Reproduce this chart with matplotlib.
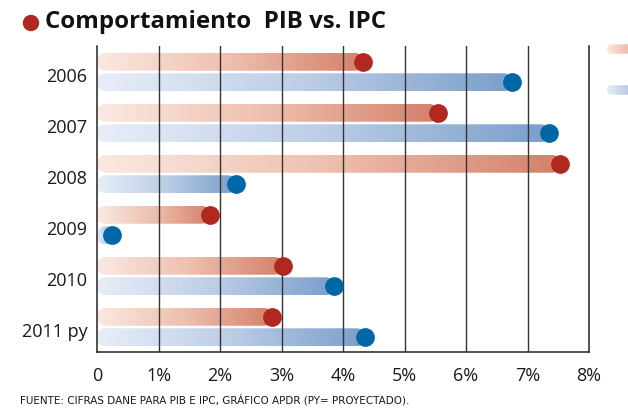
import numpy as np
import matplotlib
matplotlib.use('Agg')
import matplotlib.pyplot as plt
from matplotlib.colors import LinearSegmentedColormap
from matplotlib.patches import FancyBboxPatch, Ellipse

years = ['2006', '2007', '2008', '2009', '2010', '2011 py']
red_vals = [4.33, 5.54, 7.53, 1.84, 3.02, 2.85]
blue_vals = [6.75, 7.35, 2.26, 0.24, 3.85, 4.36]
xticks = [0, 1, 2, 3, 4, 5, 6, 7, 8]
xtick_labels = ['0', '1%', '2%', '3%', '4%', '5%', '6%', '7%', '8%']
title = 'Comportamiento  PIB vs. IPC'
footer = 'FUENTE: CIFRAS DANE PARA PIB E IPC, GRÁFICO APDR (PY= PROYECTADO).'

red_cmap = LinearSegmentedColormap.from_list('r', ['#fae9e2', '#eebfae', '#d4806a'])
blue_cmap = LinearSegmentedColormap.from_list('b', ['#e8eef8', '#bccde6', '#7a9ecb'])
red_dot = '#b0281f'
blue_dot = '#0067a7'

W, H = 628, 413
fig = plt.figure(figsize=(W / 100, H / 100), dpi=100)

ax_l, ax_r, ax_b, ax_t = 97, 589, 352, 46
ax = fig.add_axes([ax_l / W, 1 - ax_b / H, (ax_r - ax_l) / W, (ax_b - ax_t) / H])
ax.set_xlim(0, 8)
ax.set_ylim(5.49, -0.51)

px_x = (ax_r - ax_l) / 8.0
px_y = (ax_b - ax_t) / 6.0


def grad_bar(axis, x1, yc, h, cmap, pxx, pxy, z=2):
    r = (h / 2) * pxy / pxx
    a = pxx / pxy
    w = max(x1, 2 * r)
    patch = FancyBboxPatch((0, yc - h / 2), w, h,
                           boxstyle=f"round,pad=0,rounding_size={r}",
                           mutation_aspect=a, transform=axis.transData,
                           facecolor='none', edgecolor='none')
    axis.add_patch(patch)
    grad = np.linspace(0, 1, 256).reshape(1, -1)
    im = axis.imshow(grad, cmap=cmap, extent=[0, w, yc + h / 2, yc - h / 2],
                     aspect='auto', zorder=z, interpolation='bilinear')
    im.set_clip_path(patch)


bar_h = 0.35
off = 0.2
for i, (rv, bv) in enumerate(zip(red_vals, blue_vals)):
    grad_bar(ax, rv, i - off, bar_h, red_cmap, px_x, px_y)
    grad_bar(ax, bv, i + off, bar_h, blue_cmap, px_x, px_y)

ypos = np.arange(len(years))
ax.plot(red_vals, ypos - off, 'o', ms=13.5, color=red_dot, mec='none', zorder=5, clip_on=False)
ax.plot(blue_vals, ypos + off, 'o', ms=13.5, color=blue_dot, mec='none', zorder=5, clip_on=False)

ax.set_xlim(0, 8)
ax.set_ylim(5.49, -0.51)

for x in xticks[1:-1]:
    ax.axvline(x, color='#333333', lw=1.0, zorder=3)

for s in ['left', 'bottom', 'right']:
    ax.spines[s].set_color('#222222')
    ax.spines[s].set_linewidth(1.1)
ax.spines['top'].set_visible(False)

ax.set_xticks(xticks)
ax.set_xticklabels(xtick_labels, fontsize=13, family=['Open Sans', 'DejaVu Sans'], color='#1a1a1a')
ax.tick_params(axis='x', length=0, pad=11)
ax.set_yticks(ypos + 0.06)
ax.set_yticklabels(years, fontsize=13, family=['Open Sans', 'DejaVu Sans'], color='#1a1a1a')
ax.tick_params(axis='y', length=0, pad=7)

# title
fig.add_artist(Ellipse((31 / W, 1 - 23 / H), 15 / W, 15 / H, transform=fig.transFigure,
                       color=red_dot))
fig.text(45 / W, 1 - 22 / H, title, fontsize=17.3, fontweight='bold',
         family=['Open Sans', 'DejaVu Sans'], va='center', ha='left', color='#111111')

fig.text(20 / W, 1 - 400 / H, footer, fontsize=7.5,
         family=['Liberation Sans Narrow', 'DejaVu Sans'], va='center', ha='left',
         color='#1a1a1a')

# legend swatches (cut at the right edge)
for yc, cmap in [(49, red_cmap), (90, blue_cmap)]:
    lax = fig.add_axes([607 / W, 1 - (yc + 7) / H, 40 / W, 14 / H])
    lax.set_xlim(0, 1)
    lax.set_ylim(1, 0)
    lax.axis('off')
    grad_bar(lax, 1.0, 0.5, 0.68, cmap, 40.0, 14.0)
    lax.set_xlim(0, 1)
    lax.set_ylim(1, 0)

fig.savefig('out.png', dpi=100)
